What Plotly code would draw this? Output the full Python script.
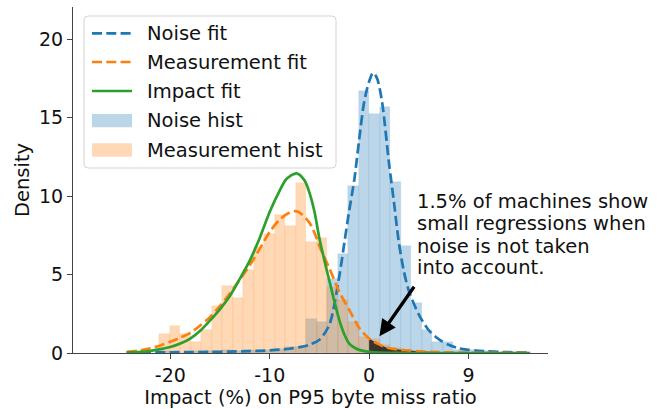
import plotly.graph_objects as go

# ---------------- data ----------------
bin_edges = [-21.14, -20.08, -19.03, -17.97, -16.91, -15.86, -14.80, -13.74, -12.68, -11.63,
             -10.57, -9.51, -8.46, -7.40, -6.34, -5.29, -4.23, -3.17, -2.11, -1.06,
             0.0, 1.06, 2.11, 3.17, 4.23, 5.29, 6.34, 7.40, 8.46, 9.51, 10.57, 11.63, 12.68]

noise_hist = [0.10, 0.0, 0.0, 0.10, 0.15, 0.10, 0.17, 0.10, 0.17, 0.10,
              0.17, 0.25, 0.38, 0.38, 2.19, 1.98, 4.74, 6.34, 10.63, 16.71,
              15.20, 15.69, 10.90, 6.82, 3.20, 1.45, 0.70, 0.70, 0.17, 0.17, 0.10, 0.10]

measurement_hist = [1.19, 1.70, 1.19, 0.68, 1.45, 2.98, 4.25, 3.50, 5.27, 6.76,
                    7.61, 8.78, 8.08, 10.84, 7.08, 7.30, 4.21, 3.36, 1.98, 1.02,
                    0.90, 0.50, 0.30, 0.15, 0.10, 0.05]

noise_fit_x = [-24.4, -22, -20, -18, -16, -14, -12, -10, -9, -8, -7, -6, -5, -4, -3, -2.5, -2,
               -1.5, -1, -0.5, 0, 0.4, 0.8, 1.3, 2, 2.5, 3, 3.5, 4, 5, 6, 7, 8, 9, 10, 11, 12, 14, 16.2]
noise_fit_y = [0.03, 0.035, 0.045, 0.055, 0.07, 0.09, 0.12, 0.17, 0.21, 0.27, 0.37, 0.53, 0.85, 1.8,
               4.9, 7.0, 9.1, 11.0, 13.6, 16.0, 17.3, 17.86, 17.5, 16.0, 12.1, 9.6, 7.0, 5.2, 3.95,
               2.45, 1.45, 0.88, 0.52, 0.30, 0.20, 0.14, 0.10, 0.05, 0.03]

meas_fit_x = [-24.4, -23, -22, -21, -20, -19, -18, -17, -16, -15, -14, -13, -12, -11, -10, -9, -8,
              -7.45, -7, -6, -5.27, -5, -4, -3, -2, -1, 0, 1, 1.78, 3, 3.8, 5, 6, 8, 10, 12, 14, 16.2]
meas_fit_y = [0.07, 0.17, 0.30, 0.48, 0.72, 0.98, 1.28, 1.75, 2.3, 3.0, 3.8, 4.7, 5.6, 6.65, 7.72,
              8.5, 8.95, 9.04, 8.95, 8.3, 7.3, 6.8, 5.4, 3.9, 2.75, 1.6, 0.92, 0.55, 0.34, 0.22,
              0.17, 0.11, 0.08, 0.04, 0.02, 0.01, 0.005, 0.002]

impact_fit_x = [-24.4, -23, -22, -21, -20, -19, -18, -17, -16, -15, -14, -13, -12, -11, -10, -9,
                -8.3, -7.3, -6.5, -6, -5.5, -5, -4.5, -4, -3.5, -3, -2.5, -2, -1.5, -1, 0, 1, 2,
                4, 8, 12, 16.2]
impact_fit_y = [0.03, 0.07, 0.14, 0.25, 0.38, 0.60, 0.92, 1.42, 2.08, 2.8, 3.65, 4.74, 5.9, 7.35,
                9.0, 10.35, 11.1, 11.45, 11.0, 10.2, 9.0, 7.3, 5.9, 4.6, 3.3, 2.1, 1.2, 0.6, 0.35,
                0.2, 0.07, 0.02, 0.01, 0.0, 0.0, 0.0, 0.0]

x_tick_vals = [-20, -10, 0, 10]
x_tick_text = ["-20", "-10", "0", "9"]
y_tick_vals = [0, 5, 10, 15, 20]

legend_labels = ["Noise fit", "Measurement fit", "Impact fit", "Noise hist", "Measurement hist"]
note_lines = ["1.5% of machines show", "small regressions when",
              "noise is not taken", "into account."]
arrow_tip = (1.04, 1.07)
arrow_tail = (4.63, 4.32)

# ---------------- styling ----------------
BLUE = "#1f77b4"
ORANGE = "#ff7f0e"
GREEN = "#2ca02c"
BLUE_A = "rgba(31,119,180,0.3)"
ORANGE_A = "rgba(255,127,14,0.3)"
FONT = "DejaVu Sans"
TXT = "#111111"
FS = 19.5
LW = 2.7
DASH = "10px,4.3px"

W, H = 669, 409
L, R, T, B = 73, 548, 7, 353


def px(x):
    return (x - L) / (R - L)


def py(y):
    return (B - y) / (B - T)


def centers(edges, n):
    return [(edges[i] + edges[i + 1]) / 2 for i in range(n)]


def widths(edges, n):
    return [edges[i + 1] - edges[i] for i in range(n)]


fig = go.Figure()

fig.add_trace(go.Bar(
    x=centers(bin_edges, len(noise_hist)), y=noise_hist,
    width=widths(bin_edges, len(noise_hist)),
    marker=dict(color=BLUE_A, line=dict(color="rgba(31,119,180,0.18)", width=0.5)),
    showlegend=False, name="Noise hist"))

fig.add_trace(go.Bar(
    x=centers(bin_edges, len(measurement_hist)), y=measurement_hist,
    width=widths(bin_edges, len(measurement_hist)),
    marker=dict(color=ORANGE_A, line=dict(color="rgba(255,127,14,0.2)", width=0.5)),
    showlegend=False, name="Measurement hist"))

# dark shaded region: measurement fit for x >= 0
fx = [x for x in meas_fit_x if x >= 0]
fy = [y for x, y in zip(meas_fit_x, meas_fit_y) if x >= 0]
fig.add_trace(go.Scatter(x=fx, y=fy, mode="lines", fill="tozeroy",
                         fillcolor="rgba(0,0,0,0.72)", line=dict(width=0, shape="spline"),
                         showlegend=False, hoverinfo="skip"))

fig.add_trace(go.Scatter(x=noise_fit_x, y=noise_fit_y, mode="lines",
                         line=dict(color=BLUE, width=LW, dash=DASH, shape="spline", smoothing=0.8),
                         showlegend=False, name="Noise fit"))
fig.add_trace(go.Scatter(x=meas_fit_x, y=meas_fit_y, mode="lines",
                         line=dict(color=ORANGE, width=LW, dash=DASH, shape="spline", smoothing=0.8),
                         showlegend=False, name="Measurement fit"))
fig.add_trace(go.Scatter(x=impact_fit_x, y=impact_fit_y, mode="lines",
                         line=dict(color=GREEN, width=LW, shape="spline", smoothing=0.8),
                         showlegend=False, name="Impact fit"))

shapes = []
annotations = []

# ---- custom legend ----
x0, x1, y0, y1, r = 84, 336, 16, 168, 4
path = (f"M{px(x0 + r)},{py(y0)} L{px(x1 - r)},{py(y0)} Q{px(x1)},{py(y0)} {px(x1)},{py(y0 + r)} "
        f"L{px(x1)},{py(y1 - r)} Q{px(x1)},{py(y1)} {px(x1 - r)},{py(y1)} "
        f"L{px(x0 + r)},{py(y1)} Q{px(x0)},{py(y1)} {px(x0)},{py(y1 - r)} "
        f"L{px(x0)},{py(y0 + r)} Q{px(x0)},{py(y0)} {px(x0 + r)},{py(y0)} Z")
shapes.append(dict(type="path", xref="paper", yref="paper", path=path,
                   fillcolor="rgba(255,255,255,0.8)", line=dict(color="#d3d3d3", width=1),
                   layer="above"))

row_y = [33.3, 62.0, 91.0, 120.6, 150.0]
line_styles = [(BLUE, DASH), (ORANGE, DASH), (GREEN, "solid")]
for i, (c, d) in enumerate(line_styles):
    shapes.append(dict(type="line", xref="paper", yref="paper",
                       x0=px(92), x1=px(132), y0=py(row_y[i]), y1=py(row_y[i]),
                       line=dict(color=c, width=LW, dash=d), layer="above"))
for i, c in zip([3, 4], [BLUE_A, ORANGE_A]):
    shapes.append(dict(type="rect", xref="paper", yref="paper",
                       x0=px(92), x1=px(132), y0=py(row_y[i] - 6.7), y1=py(row_y[i] + 6.7),
                       fillcolor=c, line=dict(width=0), layer="above"))
for i, lab in enumerate(legend_labels):
    annotations.append(dict(text=lab, xref="paper", yref="paper", x=px(145), y=py(row_y[i]),
                            xanchor="left", yanchor="middle", showarrow=False,
                            font=dict(family=FONT, size=FS, color=TXT)))

# ---- note text ----
note_y = [201.6, 223.6, 246.0, 267.6]
for line, yy in zip(note_lines, note_y):
    annotations.append(dict(text=line, xref="paper", yref="paper", x=px(415), y=py(yy),
                            xanchor="left", yanchor="middle", showarrow=False,
                            font=dict(family=FONT, size=FS, color=TXT)))

# ---- arrow ----
annotations.append(dict(text="", x=arrow_tip[0], y=arrow_tip[1], xref="x", yref="y",
                        ax=arrow_tail[0], ay=arrow_tail[1], axref="x", ayref="y",
                        showarrow=True, arrowhead=2, arrowsize=1, arrowwidth=3.3,
                        arrowcolor="black", standoff=0))

fig.update_layout(
    width=W, height=H,
    margin=dict(l=L, r=W - R, t=T, b=H - B),
    plot_bgcolor="white", paper_bgcolor="white",
    barmode="overlay", bargap=0,
    font=dict(family=FONT, size=19, color=TXT),
    shapes=shapes, annotations=annotations,
    showlegend=False,
)
fig.update_xaxes(range=[-29.8, 18.0], tickvals=x_tick_vals, ticktext=x_tick_text,
                 showline=True, linecolor="#444444", linewidth=1.25,
                 ticks="outside", ticklen=5, tickwidth=1.25, tickcolor="#444444",
                 showgrid=False, zeroline=False,
                 title=dict(text="Impact (%) on P95 byte miss ratio",
                            font=dict(family=FONT, size=FS, color=TXT), standoff=3))
fig.update_yaxes(range=[0, 22.05], tickvals=y_tick_vals,
                 showline=True, linecolor="#444444", linewidth=1.25,
                 ticks="outside", ticklen=5, tickwidth=1.25, tickcolor="#444444",
                 showgrid=False, zeroline=False,
                 title=dict(text="Density", font=dict(family=FONT, size=FS, color=TXT), standoff=4))

fig.write_html("out.html")
